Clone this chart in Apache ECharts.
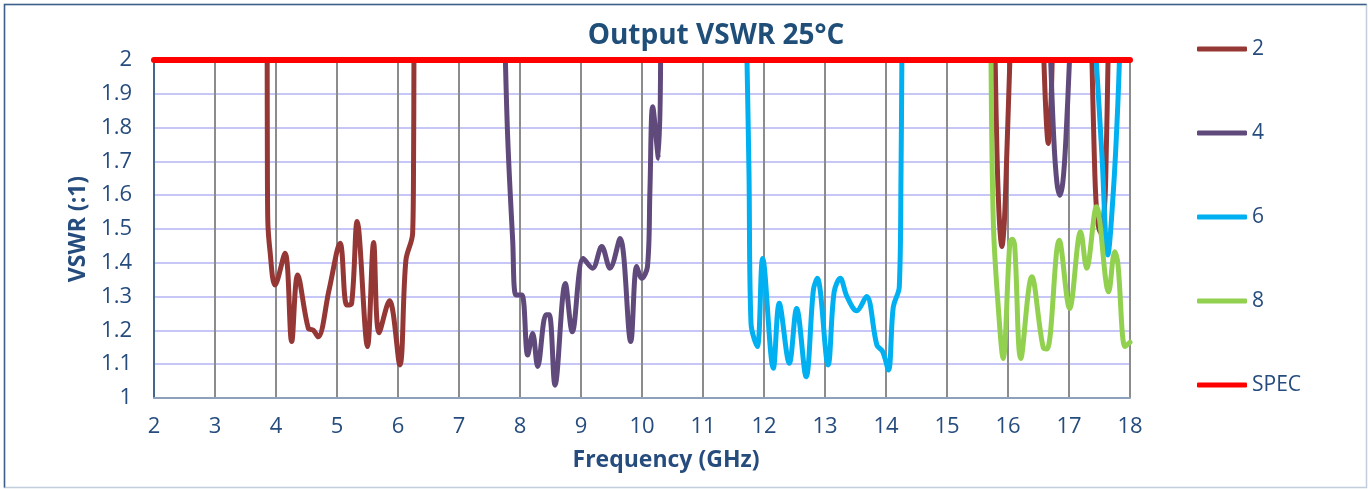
<!DOCTYPE html>
<html>
<head>
<meta charset="utf-8">
<script src="https://cdn.jsdelivr.net/npm/echarts@6/dist/echarts.min.js"></script>
<style>
html,body{margin:0;padding:0;background:#fff;}
#c{width:1368px;height:489px;}
</style>
</head>
<body>
<div id="c"></div>
<script>
// ---- data (null = break, curve is above the 2.0 axis limit) ----
const xTicks = [2,3,4,5,6,7,8,9,10,11,12,13,14,15,16,17,18];
const yTicks = [1,1.1,1.2,1.3,1.4,1.5,1.6,1.7,1.8,1.9,2];

const f2 = [3.855,3.858,3.865,3.90,3.984,4.148,4.257,4.355,4.53,4.61,4.69,4.87,5.05,5.16,5.24,5.33,5.50,5.60,5.69,5.86,6.03,6.13,6.24,6.255,6.262,
            6.5,
            15.785,15.82,15.86,15.90,15.94,15.98,16.04,
            16.3,
            16.58,16.62,16.66,16.70,16.73,
            17.0,
            17.37,17.41,17.45,17.51,17.58,17.61,17.645];
const v2 = [2.05,1.75,1.53,1.438,1.334,1.428,1.167,1.364,1.206,1.201,1.181,1.32,1.458,1.275,1.28,1.522,1.152,1.46,1.193,1.288,1.098,1.408,1.487,1.70,2.05,
            null,
            2.05,1.72,1.52,1.448,1.52,1.72,2.05,
            null,
            2.05,1.85,1.753,1.85,2.05,
            null,
            2.05,1.75,1.56,1.49,1.56,1.72,2.05];

const f4 = [7.754,7.80,7.88,7.934,8.03,8.126,8.208,8.29,8.426,8.48,8.574,8.743,8.857,9.038,9.19,9.34,9.475,9.64,9.815,9.913,9.995,10.09,10.13,10.175,10.27,10.306,
            13.0,
            16.69,16.75,16.80,16.85,16.90,16.95,17.02];
const v4 = [2.05,1.763,1.467,1.305,1.305,1.127,1.191,1.093,1.246,1.246,1.038,1.339,1.196,1.413,1.384,1.448,1.384,1.472,1.167,1.389,1.354,1.389,1.615,1.862,1.709,2.05,
            null,
            2.05,1.77,1.64,1.60,1.64,1.77,2.05];

const f6 = [11.716,11.754,11.787,11.89,11.978,12.153,12.25,12.415,12.535,12.69,12.81,12.874,13.05,13.15,13.25,13.36,13.52,13.68,13.85,13.946,14.04,14.12,14.218,14.246,14.262,
            16.0,
            17.43,17.54,17.635,17.73,17.80,17.836];
const v6 = [2.05,1.665,1.221,1.152,1.413,1.088,1.280,1.103,1.265,1.063,1.320,1.354,1.098,1.314,1.354,1.30,1.258,1.30,1.157,1.137,1.083,1.270,1.329,1.665,2.05,
            null,
            2.05,1.719,1.423,1.62,1.867,2.05];

const f8 = [15.72,15.76,15.84,15.92,16.03,16.07,16.11,16.21,16.39,16.58,16.64,16.84,17.01,17.19,17.29,17.45,17.65,17.75,17.80,17.92,18.0];
const v8 = [2.05,1.517,1.27,1.117,1.46,1.47,1.45,1.117,1.359,1.148,1.145,1.467,1.265,1.492,1.384,1.566,1.314,1.433,1.40,1.152,1.165];

const fSpec = [2,18];
const vSpec = [2,2];

const names = ['2','4','6','8','SPEC'];
const colors = ['#953735','#604A7B','#00B0F0','#92D050','#FF0000'];

// ---- build ----
function pairs(fs, vs){ return fs.map((f,i)=> [f, vs[i]===null ? '-' : vs[i]]); }
const txt = '#264C7E';
const font = '"Open Sans", "Noto Sans", sans-serif';

const chart = echarts.init(document.getElementById('c'));
const seriesData = [pairs(f2,v2), pairs(f4,v4), pairs(f6,v6), pairs(f8,v8), pairs(fSpec,vSpec)];

chart.setOption({
  animation:false,
  backgroundColor:'#fff',
  textStyle:{fontFamily:font},
  grid:{left:154, right:238, top:60, bottom:91, containLabel:false},
  graphic:[
    {type:'rect', silent:true, shape:{x:4.5,y:4.5,width:1362,height:483}, style:{fill:'none', stroke:'#C3CEDC', lineWidth:1.5}},
    {type:'polyline', silent:true, shape:{points:[[4.5,487.5],[4.5,4.5],[1366.5,4.5]]}, style:{fill:'none', stroke:'#3D5F8C', lineWidth:1.5}},
    {type:'text', silent:true, x:716, y:36, style:{text:'Output VSWR 25°C', fontFamily:font, fontWeight:'bold', fontSize:28, fill:'#1F4E79', align:'center', verticalAlign:'middle'}}
  ],
  legend:{
    orient:'vertical', left:1192, top:32,
    data:names,
    icon:'roundRect', itemWidth:50, itemHeight:5, itemGap:60,
    textStyle:{color:txt, fontSize:21, fontFamily:font, lineHeight:24}
  },
  xAxis:{
    type:'value', min:2, max:18, interval:1,
    name:'Frequency (GHz)', nameLocation:'middle', nameGap:51,
    nameTextStyle:{color:txt, fontSize:23, fontWeight:'bold', fontFamily:font, padding:[0,0,0,48]},
    axisLine:{show:true, onZero:false, lineStyle:{color:'#8EA1BC', width:2}},
    axisTick:{show:false},
    axisLabel:{color:txt, fontSize:22, fontFamily:font, margin:18, formatter:v=>String(v)},
    splitLine:{show:true, lineStyle:{color:'#8C8C8C', width:2}}
  },
  yAxis:{
    type:'value', min:1, max:2, interval:0.1,
    name:'VSWR (:1)', nameLocation:'middle', nameGap:60, nameRotate:90,
    nameTextStyle:{color:txt, fontSize:23, fontWeight:'bold', fontFamily:font},
    axisLine:{show:true, lineStyle:{color:'#2E5A8E', width:1.5}},
    axisTick:{show:false},
    axisLabel:{color:txt, fontSize:22, fontFamily:font, margin:22, formatter:v=>String(Number(v.toFixed(1)))},
    splitLine:{show:true, lineStyle:{color:'#C6C6F7', width:2}}
  },
  series: names.map((n,i)=>({
    name:n, type:'line', data:seriesData[i],
    smooth: i===4 ? false : 0.35,
    connectNulls:false,
    showSymbol:false, symbol:'none',
    clip:true,
    color:colors[i],
    lineStyle:{color:colors[i], width: i===4 ? 6 : 5, cap:'round', join:'round'},
    z: 2+i
  }))
});
</script>
</body>
</html>
